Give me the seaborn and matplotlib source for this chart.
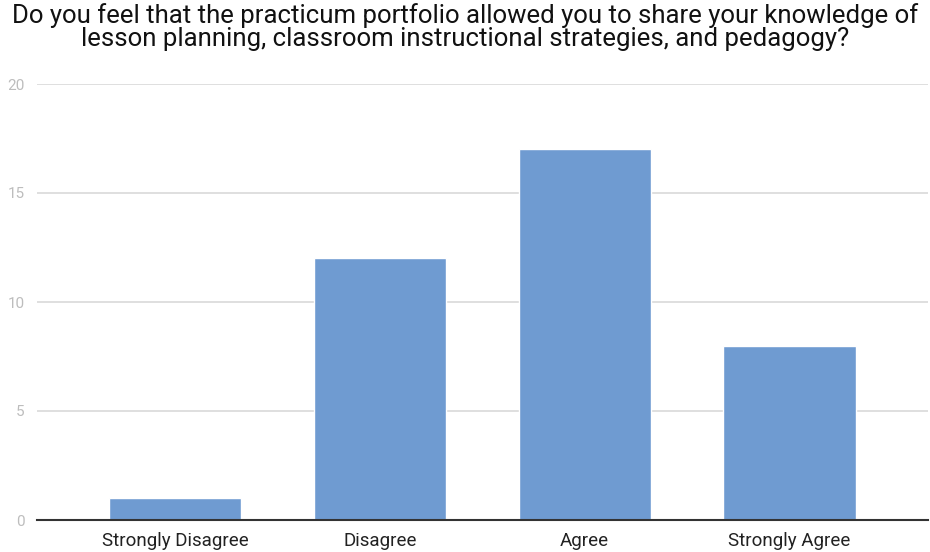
import matplotlib
matplotlib.use('Agg')
import pandas as pd
import seaborn as sns
import matplotlib.pyplot as plt

sns.set_theme(style='white')
plt.rcParams['font.family'] = ['Roboto', 'DejaVu Sans']

# data
responses = ['Strongly Disagree', 'Disagree', 'Agree', 'Strongly Agree']
counts = [1, 12, 17, 8]
y_ticks = [0, 5, 10, 15, 20]

df = pd.DataFrame({'response': responses, 'count': counts})

fig = plt.figure(figsize=(9.3, 5.52), dpi=100)
ax = fig.add_axes([37 / 930, 32 / 552, 891 / 930, 436 / 552])

sns.barplot(data=df, x='response', y='count', color='#6f9bd1',
            saturation=1, width=0.645, ax=ax, zorder=3)

ax.set_xlim(-0.674, 3.676)
ax.set_ylim(0, 20)
ax.set_yticks(y_ticks)
ax.yaxis.grid(True, color='#d9d9d9', linewidth=1.2, zorder=0)
for s in ['top', 'right', 'left']:
    ax.spines[s].set_visible(False)
ax.spines['bottom'].set_color('#333333')
ax.spines['bottom'].set_linewidth(1.5)
ax.spines['bottom'].set_zorder(4)
ax.tick_params(axis='y', colors='#bdbdbd', labelsize=11, length=0, pad=9)
ax.tick_params(axis='x', colors='#222222', labelsize=13.5, length=0, pad=9)
ax.set_xlabel('')
ax.set_ylabel('')

fig.text(0.5, 0.995, 'Do you feel that the practicum portfolio allowed you to share your knowledge of\n'
         'lesson planning, classroom instructional strategies, and pedagogy?',
         ha='center', va='top', fontsize=18.5, color='#111111', linespacing=0.95)

plt.savefig('out.png', dpi=100)
